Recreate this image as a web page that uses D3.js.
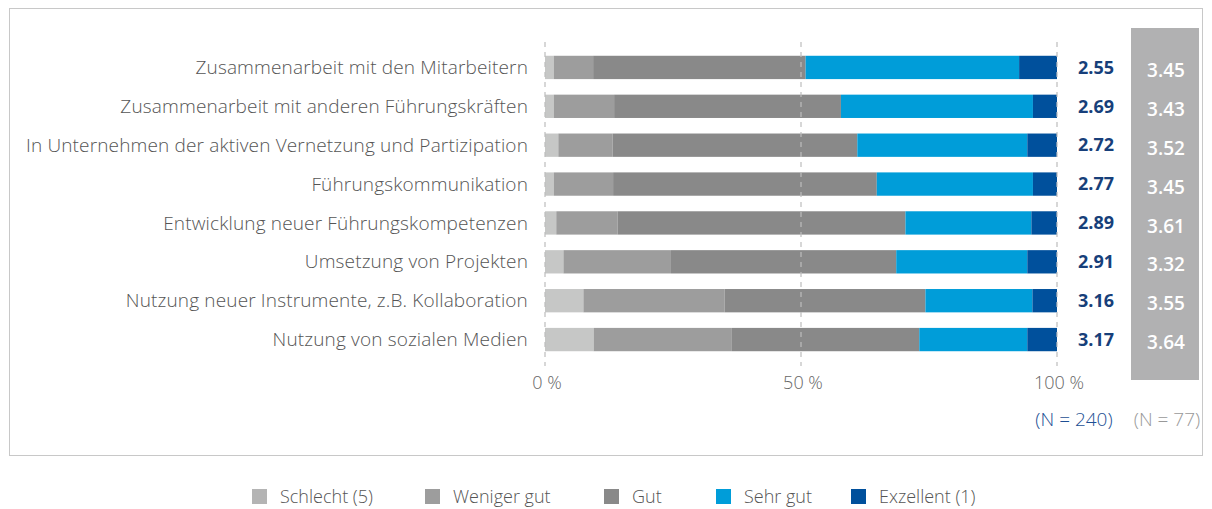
<!DOCTYPE html>
<html>
<head>
<meta charset="utf-8">
<script src="https://cdn.jsdelivr.net/npm/d3@7"></script>
<style>
  body { margin: 0; background: #fff; }
  svg { font-family: "Open Sans", sans-serif; }
</style>
</head>
<body>
<svg width="1212" height="509"></svg>
<script>
// categories and values
const items = [
  "Zusammenarbeit mit den Mitarbeitern",
  "Zusammenarbeit mit anderen Führungskräften",
  "In Unternehmen der aktiven Vernetzung und Partizipation",
  "Führungskommunikation",
  "Entwicklung neuer Führungskompetenzen",
  "Umsetzung von Projekten",
  "Nutzung neuer Instrumente, z.B. Kollaboration",
  "Nutzung von sozialen Medien"
];
const levels = ["Schlecht (5)", "Weniger gut", "Gut", "Sehr gut", "Exzellent (1)"];
const schlecht  = [1.7, 1.7, 2.6, 1.7, 2.2, 3.6, 7.5, 9.5];
const wenigerGut = [7.7, 11.8, 10.6, 11.6, 12.0, 21.0, 27.6, 27.0];
const gut       = [41.5, 44.3, 47.8, 51.5, 56.2, 44.0, 39.2, 36.6];
const sehrGut   = [41.7, 37.5, 33.2, 30.5, 24.6, 25.6, 20.9, 21.1];
const exzellent = [7.4, 4.7, 5.8, 4.7, 5.0, 5.8, 4.8, 5.8];
const meanAll = ["2.55", "2.69", "2.72", "2.77", "2.89", "2.91", "3.16", "3.17"];
const meanSub = ["3.45", "3.43", "3.52", "3.45", "3.61", "3.32", "3.55", "3.64"];
const ticks = [0, 50, 100];
const nAll = "(N = 240)";
const nSub = "(N = 77)";

const colors = ["#c6c7c6", "#9d9d9d", "#898989", "#009dd9", "#00509c"];
const legendColors = ["#b4b4b4", "#9d9d9d", "#898989", "#009dd9", "#00509c"];

const svg = d3.select("svg");

// frame
svg.append("rect")
  .attr("x", 9.5).attr("y", 8.5)
  .attr("width", 1193).attr("height", 447)
  .attr("fill", "none").attr("stroke", "#c8c8c8");

const x = d3.scaleLinear().domain([0, 100]).range([545, 1057]);
const y = d3.scaleBand().domain(items).range([48, 359]).paddingInner(0.4).paddingOuter(0.2);

// stack
const rows = items.map((name, i) => ({
  name: name,
  "Schlecht (5)": schlecht[i],
  "Weniger gut": wenigerGut[i],
  "Gut": gut[i],
  "Sehr gut": sehrGut[i],
  "Exzellent (1)": exzellent[i]
}));
const stacked = d3.stack().keys(levels)(rows);

// grey column for subgroup means
svg.append("rect")
  .attr("x", 1131).attr("y", 28)
  .attr("width", 68).attr("height", 352)
  .attr("fill", "#b1b1b2");

svg.selectAll("g.layer").data(stacked)
  .enter().append("g")
  .attr("class", "layer")
  .attr("fill", (d, i) => colors[i])
  .selectAll("rect").data(d => d)
  .enter().append("rect")
  .attr("x", d => x(d[0]))
  .attr("y", d => y(d.data.name))
  .attr("width", d => x(Math.min(d[1], 100)) - x(d[0]))
  .attr("height", y.bandwidth());

// dashed grid lines on top
svg.selectAll("line.grid").data(ticks)
  .enter().append("line")
  .attr("class", "grid")
  .attr("x1", d => x(d)).attr("x2", d => x(d))
  .attr("y1", 42).attr("y2", 366)
  .attr("stroke", "#bdbdbd")
  .attr("stroke-width", 1.2)
  .attr("stroke-dasharray", "5,5");

// tick labels
svg.selectAll("text.tick").data(ticks)
  .enter().append("text")
  .attr("class", "tick")
  .attr("x", d => x(d) + 2)
  .attr("y", 389)
  .attr("text-anchor", "middle")
  .attr("fill", "#666")
  .style("font-size", "18px")
  .style("font-weight", 300)
  .text(d => d + " %");

// category labels
svg.selectAll("text.cat").data(items)
  .enter().append("text")
  .attr("class", "cat")
  .attr("x", 528)
  .attr("y", d => y(d) + y.bandwidth() / 2)
  .attr("dy", "0.35em")
  .attr("text-anchor", "end")
  .attr("fill", "#555")
  .style("font-size", "19px")
  .style("font-weight", 300)
  .style("letter-spacing", "0.15px")
  .text(d => d);

// means
svg.selectAll("text.mean").data(meanAll)
  .enter().append("text")
  .attr("class", "mean")
  .attr("x", 1096)
  .attr("y", (d, i) => y(items[i]) + y.bandwidth() / 2)
  .attr("dy", "0.35em")
  .attr("text-anchor", "middle")
  .attr("fill", "#173f7a")
  .style("font-size", "18px")
  .style("font-weight", 700)
  .text(d => d);

svg.selectAll("text.sub").data(meanSub)
  .enter().append("text")
  .attr("class", "sub")
  .attr("x", 1166)
  .attr("y", (d, i) => y(items[i]) + y.bandwidth() / 2 + 3)
  .attr("dy", "0.35em")
  .attr("text-anchor", "middle")
  .attr("fill", "#fff")
  .style("font-size", "19px")
  .style("font-weight", 600)
  .text(d => d);

svg.append("text")
  .attr("x", 1074).attr("y", 426)
  .attr("text-anchor", "middle")
  .attr("fill", "#1d4f94")
  .style("font-size", "19px")
  .style("font-weight", 300)
  .text(nAll);

svg.append("text")
  .attr("x", 1167).attr("y", 426)
  .attr("text-anchor", "middle")
  .attr("fill", "#999")
  .style("font-size", "19px")
  .style("font-weight", 300)
  .text(nSub);

// legend
const legendX = [252, 425, 604, 716, 851];
const legend = svg.selectAll("g.legend").data(levels)
  .enter().append("g")
  .attr("class", "legend")
  .attr("transform", (d, i) => `translate(${legendX[i]},489)`);
legend.append("rect")
  .attr("width", 15).attr("height", 15)
  .attr("fill", (d, i) => legendColors[i]);
legend.append("text")
  .attr("x", 28).attr("y", 14)
  .attr("fill", "#555")
  .style("font-size", "18px")
  .style("font-weight", 300)
  .text(d => d);
</script>
</body>
</html>
